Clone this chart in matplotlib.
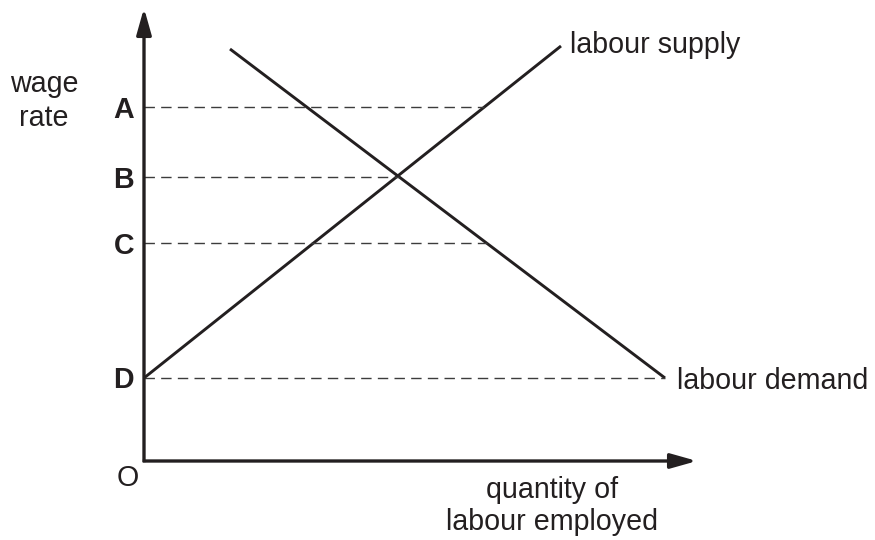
import numpy as np
import matplotlib
matplotlib.use('Agg')
import matplotlib.pyplot as plt

# wage levels marked on the vertical axis (chart units, origin at O)
level_labels = ['A', 'B', 'C', 'D']
level_values = [354, 284, 218, 83]

# labour supply and labour demand end points (quantity, wage)
supply_q = [0, 417]
supply_w = [83, 415]
demand_q = [86, 521]
demand_w = [412, 83]

# axis lengths up to the arrow tips
x_axis_end = 553
y_axis_end = 453

INK = '#231f20'
DASH = '#3c3c3c'

plt.rcParams['font.family'] = ['Liberation Sans', 'DejaVu Sans']
FS = 20.6

fig = plt.figure(figsize=(8.75, 5.4), dpi=100)
ax = fig.add_axes([0, 0, 1, 1])
ax.set_xlim(-144, 731)
ax.set_ylim(-79, 461)
ax.axis('off')

# axes with arrow heads
arrow = dict(arrowstyle='-|>,head_length=1.6,head_width=0.45', mutation_scale=10,
             lw=2.4, color=INK, shrinkA=0, shrinkB=0, capstyle='butt')
ax.annotate('', xy=(0, y_axis_end), xytext=(0, -1.2), arrowprops=arrow)
ax.annotate('', xy=(x_axis_end, 0), xytext=(-1.2, 0), arrowprops=arrow)

# supply and demand curves
ax.plot(supply_q, supply_w, color=INK, lw=2.1, solid_capstyle='butt')
ax.plot(demand_q, demand_w, color=INK, lw=2.1, solid_capstyle='butt')

# dashed wage levels, running out to the furthest curve at that wage
for lab, w in zip(level_labels, level_values):
    q_s = np.interp(w, supply_w, supply_q)
    q_d = np.interp(w, demand_w[::-1], demand_q[::-1])
    q_end = max(q_s, q_d)
    ax.plot([0, q_end], [w, w], color=DASH, lw=1.0, dashes=(7.5, 4.5))
    ax.text(-10, w - 10.5, lab, fontsize=FS, fontweight='bold', color=INK,
            ha='right', va='baseline')

# labels
ax.text(-100, 369, 'wage', fontsize=FS, color=INK, ha='center', va='baseline')
ax.text(-100, 335, 'rate', fontsize=FS, color=INK, ha='center', va='baseline')
ax.text(-16, -25, 'O', fontsize=FS, color=INK, ha='center', va='baseline')
ax.text(426, 408, 'labour supply', fontsize=FS, color=INK, ha='left', va='baseline')
ax.text(533, 72, 'labour demand', fontsize=FS, color=INK, ha='left', va='baseline')
ax.text(408, -37, 'quantity of', fontsize=FS, color=INK, ha='center', va='baseline')
ax.text(408, -69, 'labour employed', fontsize=FS, color=INK, ha='center', va='baseline')

fig.savefig('out.png', dpi=100, facecolor='white')
